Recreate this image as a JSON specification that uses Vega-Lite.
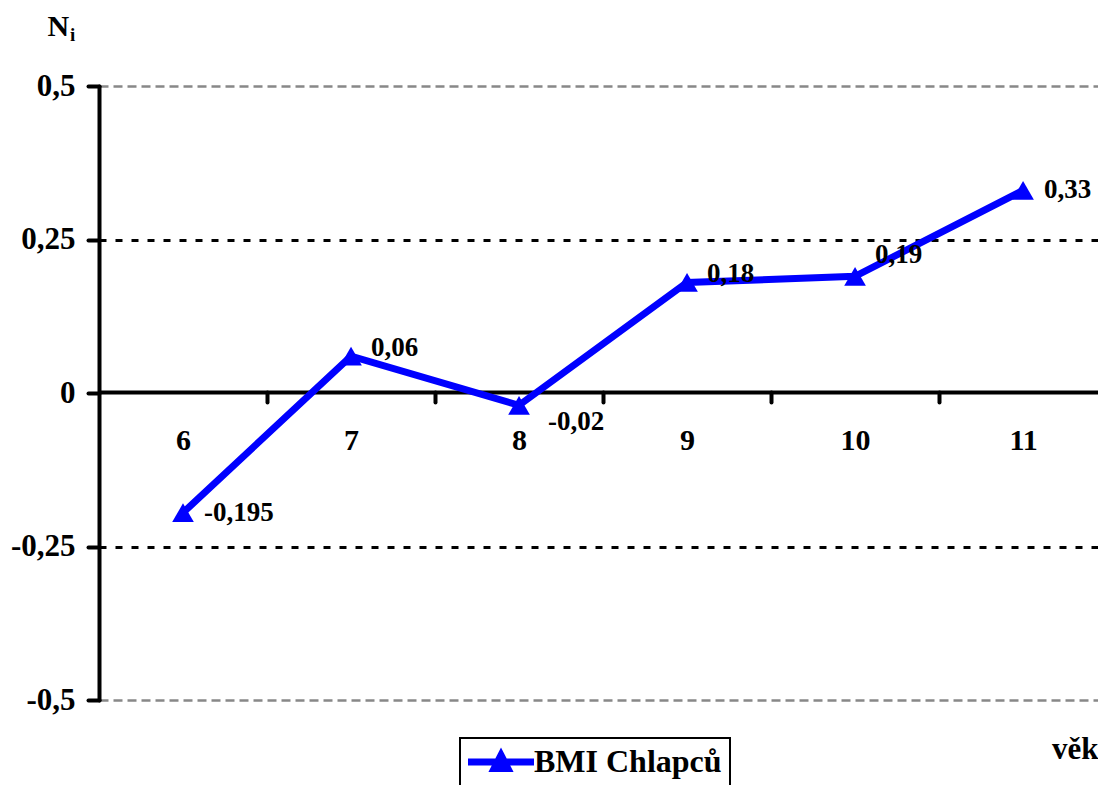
{
  "$schema": "https://vega.github.io/schema/vega-lite/v6.json",
  "autosize": "none",
  "width": 999,
  "height": 614,
  "padding": {"left": 99, "top": 86, "right": 0, "bottom": 85},
  "background": "white",
  "title": {
    "text": "i",
    "anchor": "start",
    "frame": "group",
    "dx": -29,
    "offset": -49,
    "baseline": "alphabetic",
    "font": "Liberation Serif",
    "fontSize": 19,
    "fontWeight": "bold",
    "color": "black"
  },
  "data": {
    "values": [
      {"vek": 6, "hodnota": -0.195, "serie": "BMI Chlapců"},
      {"vek": 7, "hodnota": 0.06, "serie": "BMI Chlapců"},
      {"vek": 8, "hodnota": -0.02, "serie": "BMI Chlapců"},
      {"vek": 9, "hodnota": 0.18, "serie": "BMI Chlapců"},
      {"vek": 10, "hodnota": 0.19, "serie": "BMI Chlapců"},
      {"vek": 11, "hodnota": 0.33, "serie": "BMI Chlapců"}
    ]
  },
  "transform": [
    {"calculate": "replace(toString(datum.hodnota), '.', ',')", "as": "popisek"}
  ],
  "encoding": {
    "x": {
      "field": "vek",
      "type": "quantitative",
      "scale": {"domain": [5.5, 11.446], "nice": false, "zero": false},
      "axis": {
        "orient": "bottom",
        "offset": -308,
        "values": [6, 6.5, 7, 7.5, 8, 8.5, 9, 9.5, 10, 10.5, 11],
        "labelExpr": "datum.value % 1 === 0 ? toString(datum.value) : ''",
        "labelOverlap": false,
        "labelFlush": false,
        "labelBaseline": "alphabetic",
        "labelPadding": 47,
        "labelFont": "Liberation Serif",
        "labelFontWeight": "bold",
        "labelFontSize": 30,
        "labelColor": "black",
        "tickOpacity": {"condition": {"test": "datum.value % 1 === 0", "value": 0}, "value": 1},
        "tickSize": 10,
        "tickWidth": 4,
        "tickColor": "black",
        "tickCap": "round",
        "domainColor": "black",
        "domainWidth": 4,
        "grid": false,
        "title": "věk",
        "titleX": 999,
        "titleY": 366,
        "titleAlign": "right",
        "titleBaseline": "alphabetic",
        "titleAngle": 0,
        "titleFont": "Liberation Serif",
        "titleFontWeight": "bold",
        "titleFontSize": 31,
        "titleColor": "black"
      }
    },
    "y": {
      "field": "hodnota",
      "type": "quantitative",
      "scale": {"domain": [-0.5, 0.5], "nice": false},
      "axis": {
        "values": [-0.5, -0.25, 0, 0.25, 0.5],
        "labelExpr": "replace(toString(datum.value), '.', ',')",
        "labelFont": "Liberation Serif",
        "labelFontWeight": "bold",
        "labelFontSize": 31,
        "labelColor": "black",
        "labelPadding": 13,
        "labelBaseline": "middle",
        "tickSize": 11,
        "tickWidth": 4,
        "tickColor": "black",
        "tickCap": "round",
        "domainColor": "black",
        "domainWidth": 4,
        "domainCap": "round",
        "grid": true,
        "gridColor": {"condition": {"test": "abs(datum.value) === 0.5", "value": "#888888"}, "value": "black"},
        "gridDash": {"condition": {"test": "abs(datum.value) === 0.5", "value": [9, 5]}, "value": [7, 9]},
        "gridWidth": {"condition": {"test": "abs(datum.value) === 0.5", "value": 2.5}, "value": 3},
        "gridOpacity": {"condition": {"test": "datum.value === 0", "value": 0}, "value": 1},
        "title": "N",
        "titleAngle": 0,
        "titleX": -52,
        "titleY": -51,
        "titleAlign": "left",
        "titleBaseline": "alphabetic",
        "titleFont": "Liberation Serif",
        "titleFontWeight": "bold",
        "titleFontSize": 30,
        "titleColor": "black"
      }
    }
  },
  "layer": [
    {
      "mark": {"type": "line", "strokeWidth": 7, "clip": false},
      "encoding": {
        "color": {
          "field": "serie",
          "type": "nominal",
          "scale": {"range": ["#0000ff"]},
          "legend": {
            "title": null,
            "orient": "none",
            "legendX": 361,
            "legendY": 652,
            "padding": 8,
            "strokeColor": "black",
            "fillColor": "white",
            "symbolType": "M-3,0H3M0,-0.62L0.62,0.58H-0.62Z",
            "symbolSize": 484,
            "symbolOffset": 17,
            "symbolStrokeWidth": 7,
            "symbolFillColor": "#0000ff",
            "symbolOpacity": 1,
            "labelOffset": 17,
            "labelFont": "Liberation Serif",
            "labelFontWeight": "bold",
            "labelFontSize": 32,
            "labelColor": "black",
            "labelLimit": 400
          }
        }
      }
    },
    {
      "mark": {"type": "point", "shape": "triangle-up", "filled": true, "size": 470, "opacity": 1, "color": "#0000ff"}
    },
    {
      "transform": [{"filter": "datum.vek === 6 || datum.vek === 11"}],
      "mark": {"type": "text", "align": "left", "baseline": "middle", "dx": 21, "dy": 0, "font": "Liberation Serif", "fontWeight": "bold", "fontSize": 27, "color": "black"},
      "encoding": {"text": {"field": "popisek"}}
    },
    {
      "transform": [{"filter": "datum.vek === 7 || datum.vek === 9"}],
      "mark": {"type": "text", "align": "left", "baseline": "middle", "dx": 20, "dy": -8, "font": "Liberation Serif", "fontWeight": "bold", "fontSize": 27, "color": "black"},
      "encoding": {"text": {"field": "popisek"}}
    },
    {
      "transform": [{"filter": "datum.vek === 8"}],
      "mark": {"type": "text", "align": "left", "baseline": "middle", "dx": 29, "dy": 17, "font": "Liberation Serif", "fontWeight": "bold", "fontSize": 27, "color": "black"},
      "encoding": {"text": {"field": "popisek"}}
    },
    {
      "transform": [{"filter": "datum.vek === 10"}],
      "mark": {"type": "text", "align": "left", "baseline": "middle", "dx": 20, "dy": -21, "font": "Liberation Serif", "fontWeight": "bold", "fontSize": 27, "color": "black"},
      "encoding": {"text": {"field": "popisek"}}
    }
  ],
  "config": {
    "view": {"stroke": null},
    "legend": {"strokeWidth": 2}
  }
}
